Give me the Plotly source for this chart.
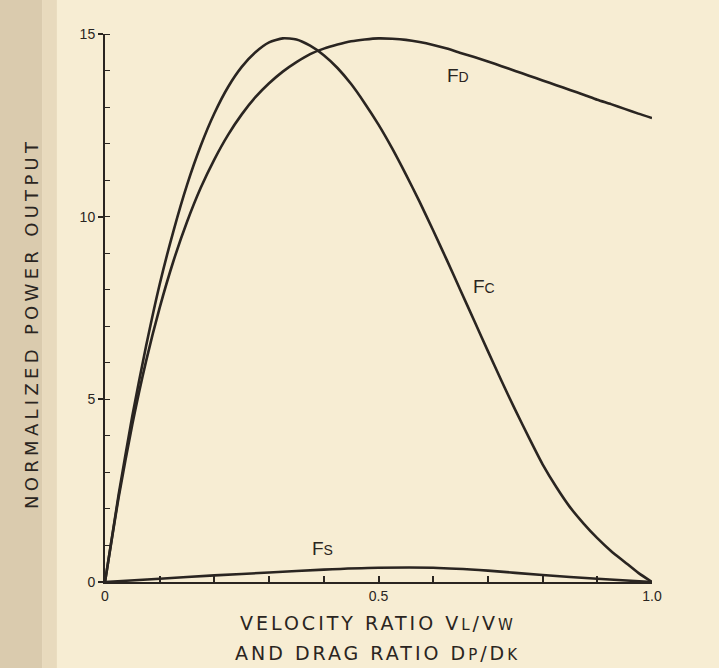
import plotly.graph_objects as go

# Velocity ratio VL/VW (and drag ratio DP/DK) on the horizontal axis
ratio = [0.0, 0.025, 0.05, 0.075, 0.10, 0.125, 0.15, 0.175, 0.20, 0.225, 0.25,
         0.275, 0.30, 0.325, 0.35, 0.375, 0.40, 0.425, 0.45, 0.475, 0.50,
         0.525, 0.55, 0.575, 0.60, 0.625, 0.65, 0.675, 0.70, 0.725, 0.75,
         0.775, 0.80, 0.825, 0.85, 0.875, 0.90, 0.925, 0.95, 0.975, 1.0]

# Crosswind kite (FC) and drag-mode (FD) normalized power output
power_fc = [0.0, 2.4, 4.55, 6.45, 8.15, 9.6, 10.87, 11.94, 12.83, 13.55, 14.1,
            14.5, 14.77, 14.88, 14.85, 14.68, 14.42, 14.07, 13.63, 13.1, 12.52,
            11.87, 11.16, 10.41, 9.62, 8.81, 7.98, 7.15, 6.32, 5.5, 4.71,
            3.95, 3.22, 2.6, 2.05, 1.6, 1.2, 0.85, 0.55, 0.25, 0.0]
power_fd = [0.0, 2.32, 4.32, 6.04, 7.51, 8.78, 9.86, 10.79, 11.57, 12.24, 12.8,
            13.27, 13.65, 13.97, 14.23, 14.45, 14.6, 14.71, 14.8, 14.85, 14.88,
            14.87, 14.84, 14.78, 14.7, 14.6, 14.48, 14.37, 14.25, 14.12, 13.99,
            13.86, 13.73, 13.6, 13.47, 13.34, 13.2, 13.08, 12.95, 12.82, 12.7]

# Simple (static) kite FS on a coarser grid
ratio_fs = [0.0, 0.1, 0.2, 0.3, 0.4, 0.5, 0.6, 0.7, 0.8, 0.9, 1.0]
power_fs = [0.0, 0.09, 0.18, 0.26, 0.34, 0.39, 0.39, 0.31, 0.19, 0.09, 0.0]

x_tick_vals = [0, 0.1, 0.2, 0.3, 0.4, 0.5, 0.6, 0.7, 0.8, 0.9, 1.0]
x_tick_text = ["0", "", "", "", "", "0.5", "", "", "", "", "1.0"]
y_tick_vals = [0, 5, 10, 15]
y_tick_text = ["0", "5", "10", "15"]

INK = "#2a2521"
PAPER = "#f7edd3"

fig = go.Figure()
for xs, ys in ((ratio, power_fc), (ratio, power_fd), (ratio_fs, power_fs)):
    fig.add_trace(go.Scatter(
        x=xs, y=ys, mode="lines",
        line=dict(color=INK, width=2.6, shape="spline", smoothing=0.6),
        cliponaxis=False, showlegend=False, hoverinfo="skip",
    ))

label_font = dict(family="Liberation Sans, Arial, sans-serif", size=19, color=INK)
small = "font-size:14px"
curve_labels = [
    (0.645, 13.86, f"F<span style='{small}'>D</span>"),
    (0.692, 8.08, f"F<span style='{small}'>C</span>"),
    (0.398, 0.92, f"F<span style='{small}'>S</span>"),
]
annotations = [
    dict(x=x, y=y, xref="x", yref="y", text=t, showarrow=False,
         xanchor="center", yanchor="middle", font=label_font)
    for x, y, t in curve_labels
]

title_font = dict(family="DejaVu Sans, sans-serif", size=19, color=INK)
sub = "font-size:15px"
annotations += [
    dict(x=0.499, y=-0.0755, xref="paper", yref="paper",
         text=f"VELOCITY RATIO V<span style='{sub}'>L</span>/V<span style='{sub}'>W</span>",
         showarrow=False, xanchor="center", yanchor="middle", font=title_font),
    dict(x=0.499, y=-0.13, xref="paper", yref="paper",
         text=f"AND DRAG RATIO D<span style='{sub}'>P</span>/D<span style='{sub}'>K</span>",
         showarrow=False, xanchor="center", yanchor="middle", font=title_font),
    dict(x=-0.135, y=0.472, xref="paper", yref="paper",
         text="NORMALIZED POWER OUTPUT", textangle=-90,
         showarrow=False, xanchor="center", yanchor="middle",
         font=dict(family="DejaVu Sans, sans-serif", size=18, color=INK)),
]

fig.update_layout(
    width=719, height=668,
    margin=dict(l=105, r=67, t=34, b=86),
    paper_bgcolor=PAPER, plot_bgcolor=PAPER,
    annotations=annotations,
    shapes=[
        dict(type="rect", xref="paper", yref="paper", x0=-0.2, x1=-0.115, y0=-0.2, y1=1.1,
             fillcolor="#dacbae", line_width=0, layer="below"),
        dict(type="rect", xref="paper", yref="paper", x0=-0.115, x1=-0.088, y0=-0.2, y1=1.1,
             fillcolor="#e8dabd", line_width=0, layer="below"),
    ],
    xaxis=dict(
        range=[0, 1.0], showgrid=False, zeroline=False,
        showline=True, linecolor=INK, linewidth=2,
        tickvals=x_tick_vals, ticktext=x_tick_text,
        ticks="inside", ticklen=6, tickwidth=1.5, tickcolor=INK,
        tickfont=dict(family="Liberation Sans, Arial, sans-serif", size=14, color=INK),
    ),
    yaxis=dict(
        range=[0, 15], showgrid=False, zeroline=False,
        showline=True, linecolor=INK, linewidth=2,
        tickvals=y_tick_vals, ticktext=y_tick_text,
        ticks="outside", ticklen=5, tickwidth=1.5, tickcolor=INK,
        tickfont=dict(family="Liberation Sans, Arial, sans-serif", size=14, color=INK),
        minor=dict(dtick=1, ticks="inside", ticklen=5, tickwidth=1.2, tickcolor=INK),
    ),
)

# Widen the letter spacing of the axis captions after the plot is drawn
spread_js = """
var gd = document.getElementById('{plot_id}');
gd.querySelectorAll('text.annotation-text').forEach(function (t) {
  var s = t.textContent;
  if (s.indexOf('NORMALIZED') === 0) { t.style.letterSpacing = '4.3px'; }
  else if (s.indexOf('VELOCITY') === 0 || s.indexOf('AND DRAG') === 0) { t.style.letterSpacing = '3px'; }
});
"""

fig.write_html("out.html", post_script=spread_js)
